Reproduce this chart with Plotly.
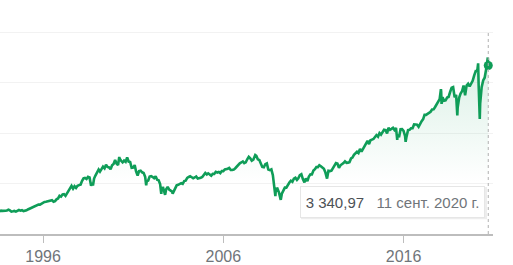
import plotly.graph_objects as go
import pandas as pd

# Monthly closes (approx.), starting July 1993 through Aug 2020
month_start = "1993-07-31"
monthly_close = [
    448, 464, 459, 468, 462, 466,
    482, 467, 446, 451, 457, 444, 458, 475, 463, 472, 454, 459,
    470, 487, 501, 515, 533, 545, 562, 562, 584, 582, 605, 616,
    636, 640, 646, 654, 669, 671, 640, 652, 687, 705, 757, 741,
    786, 791, 757, 801, 848, 885, 954, 899, 947, 915, 955, 970,
    980, 1049, 1102, 1112, 1091, 1134, 1121, 957, 1017, 1099, 1164, 1229,
    1280, 1238, 1286, 1335, 1302, 1373, 1329, 1320, 1283, 1363, 1389, 1469,
    1394, 1366, 1499, 1452, 1421, 1455, 1431, 1518, 1437, 1429, 1315, 1320,
    1366, 1240, 1160, 1249, 1256, 1224, 1211, 1134, 1041, 1060, 1139, 1148,
    1130, 1107, 1147, 1076, 1067, 990, 912, 916, 815, 886, 936, 880,
    856, 841, 848, 917, 964, 975, 990, 1008, 996, 1051, 1058, 1112,
    1131, 1145, 1126, 1107, 1121, 1141, 1102, 1104, 1115, 1130, 1174, 1212,
    1181, 1204, 1181, 1157, 1192, 1191, 1234, 1220, 1229, 1207, 1249, 1248,
    1280, 1281, 1295, 1311, 1270, 1270, 1277, 1304, 1336, 1378, 1401, 1418,
    1438, 1407, 1421, 1482, 1531, 1503, 1455, 1474, 1527, 1549, 1481, 1468,
    1379, 1331, 1323, 1386, 1400, 1280, 1267, 1283, 1166, 969, 896, 903,
    826, 735, 798, 873, 919, 919, 987, 1021, 1057, 1036, 1096, 1115,
    1074, 1104, 1169, 1187, 1089, 1031, 1102, 1049, 1141, 1183, 1181, 1258,
    1286, 1327, 1326, 1364, 1345, 1321, 1292, 1219, 1131, 1253, 1247, 1258,
    1312, 1366, 1408, 1398, 1310, 1362, 1379, 1407, 1441, 1412, 1416, 1426,
    1498, 1515, 1569, 1598, 1631, 1606, 1686, 1633, 1682, 1757, 1806, 1848,
    1783, 1859, 1872, 1884, 1924, 1960, 1931, 2003, 1972, 2018, 2068, 2059,
    1995, 2105, 2068, 2086, 2107, 2063, 2104, 1972, 1920, 2079, 2080, 2044,
    1940, 1932, 2060, 2065, 2097, 2099, 2174, 2171, 2168, 2126, 2199, 2239,
    2279, 2364, 2363, 2384, 2412, 2423, 2470, 2472, 2519, 2575, 2648, 2674,
    2824, 2714, 2641, 2648, 2705, 2718, 2816, 2902, 2914, 2712, 2760, 2507,
    2704, 2784, 2834, 2946, 2752, 2942, 2980, 2926, 2977, 3038, 3141, 3231,
    3226, 2954, 2585, 2912, 3044, 3100, 3271, 3470,
]

# Intra-month highs/lows and the last point
extreme_dates = [
    "1998-10-08", "2000-03-24", "2001-09-21", "2002-07-23", "2002-10-09",
    "2003-03-11", "2007-10-09", "2008-11-20", "2009-03-09", "2010-07-02",
    "2011-10-03", "2015-08-25", "2016-02-11", "2018-01-26", "2018-02-08",
    "2018-12-24", "2020-02-19", "2020-03-23", "2020-09-02", "2020-09-11",
]
extreme_values = [
    959, 1527, 966, 797, 777,
    800, 1565, 752, 677, 1023,
    1099, 1868, 1829, 2873, 2581,
    2351, 3386, 2280, 3500, 3340.97,
]

y_ticks = [0, 1000, 2000, 3000, 4000]
x_ticks = ["1996-01-01", "2006-01-01", "2016-01-01"]
x_tick_labels = ["1996", "2006", "2016"]
last_date = "2020-09-11"
last_value = 3340.97
tooltip_text = "3 340,97"
tooltip_date = "11 сент. 2020 г."

months = pd.date_range(month_start, periods=len(monthly_close), freq="ME")
s = pd.concat([
    pd.Series(monthly_close, index=months, dtype=float),
    pd.Series(extreme_values, index=pd.to_datetime(extreme_dates), dtype=float),
]).sort_index()

GREEN = "#0f9d58"

fig = go.Figure()
fig.add_trace(go.Scatter(
    x=s.index, y=s.values, mode="lines",
    line=dict(color=GREEN, width=2.6),
    fill="tozeroy",
    fillgradient=dict(
        type="vertical",
        colorscale=[[0, "rgba(15,157,88,0)"], [1, "rgba(15,157,88,0.16)"]],
        start=1100, stop=3600,
    ),
    hoverinfo="skip",
))
fig.add_trace(go.Scatter(
    x=[last_date], y=[last_value], mode="markers",
    marker=dict(color=GREEN, size=9),
    hoverinfo="skip",
))

# dotted cursor line
fig.add_shape(type="line", xref="x", yref="y",
              x0=last_date, x1=last_date, y0=0, y1=4000,
              line=dict(color="#b0b0b0", width=1, dash="dot"))

# tooltip shadow
fig.add_shape(type="rect", xref="paper", yref="paper",
              x0=301/493, x1=487/493, y0=(239-224)/239, y1=(239-191)/239,
              fillcolor="rgba(0,0,0,0.07)", line=dict(width=0), layer="above")

fig.add_annotation(
    xref="paper", yref="paper", x=392/493, y=(239-206)/239,
    xanchor="center", yanchor="middle", showarrow=False,
    text=(f"<span style='color:#4d5156'>{tooltip_text}</span>"
          f"<span style='color:#70757a'>\u00a0\u00a0 {tooltip_date}</span>"),
    font=dict(family="Liberation Sans, Arial", size=15),
    bgcolor="white", bordercolor="#e6e6e6", borderwidth=1,
    width=181, height=28, borderpad=1,
)

fig.update_layout(
    width=513, height=265,
    margin=dict(l=0, r=20, t=0, b=26),
    paper_bgcolor="white", plot_bgcolor="white",
    showlegend=False,
    font=dict(family="Liberation Sans, Arial", color="#70757a"),
    xaxis=dict(
        type="date",
        range=["1993-08-12", "2020-12-16"],
        tickvals=x_ticks, ticktext=x_tick_labels,
        tickfont=dict(size=16, color="#70757a"),
        ticks="outside", ticklen=7, tickcolor="#bdbdbd", tickwidth=1,
        showgrid=False, showline=True, linecolor="#bdbdbd", linewidth=1.5,
        zeroline=False, fixedrange=True,
    ),
    yaxis=dict(
        range=[0, 4641],
        tickvals=y_ticks, showticklabels=False,
        showgrid=True, gridcolor="#f2f2f2", gridwidth=1,
        zeroline=False, showline=False, fixedrange=True,
    ),
)

fig.write_html("out.html")
